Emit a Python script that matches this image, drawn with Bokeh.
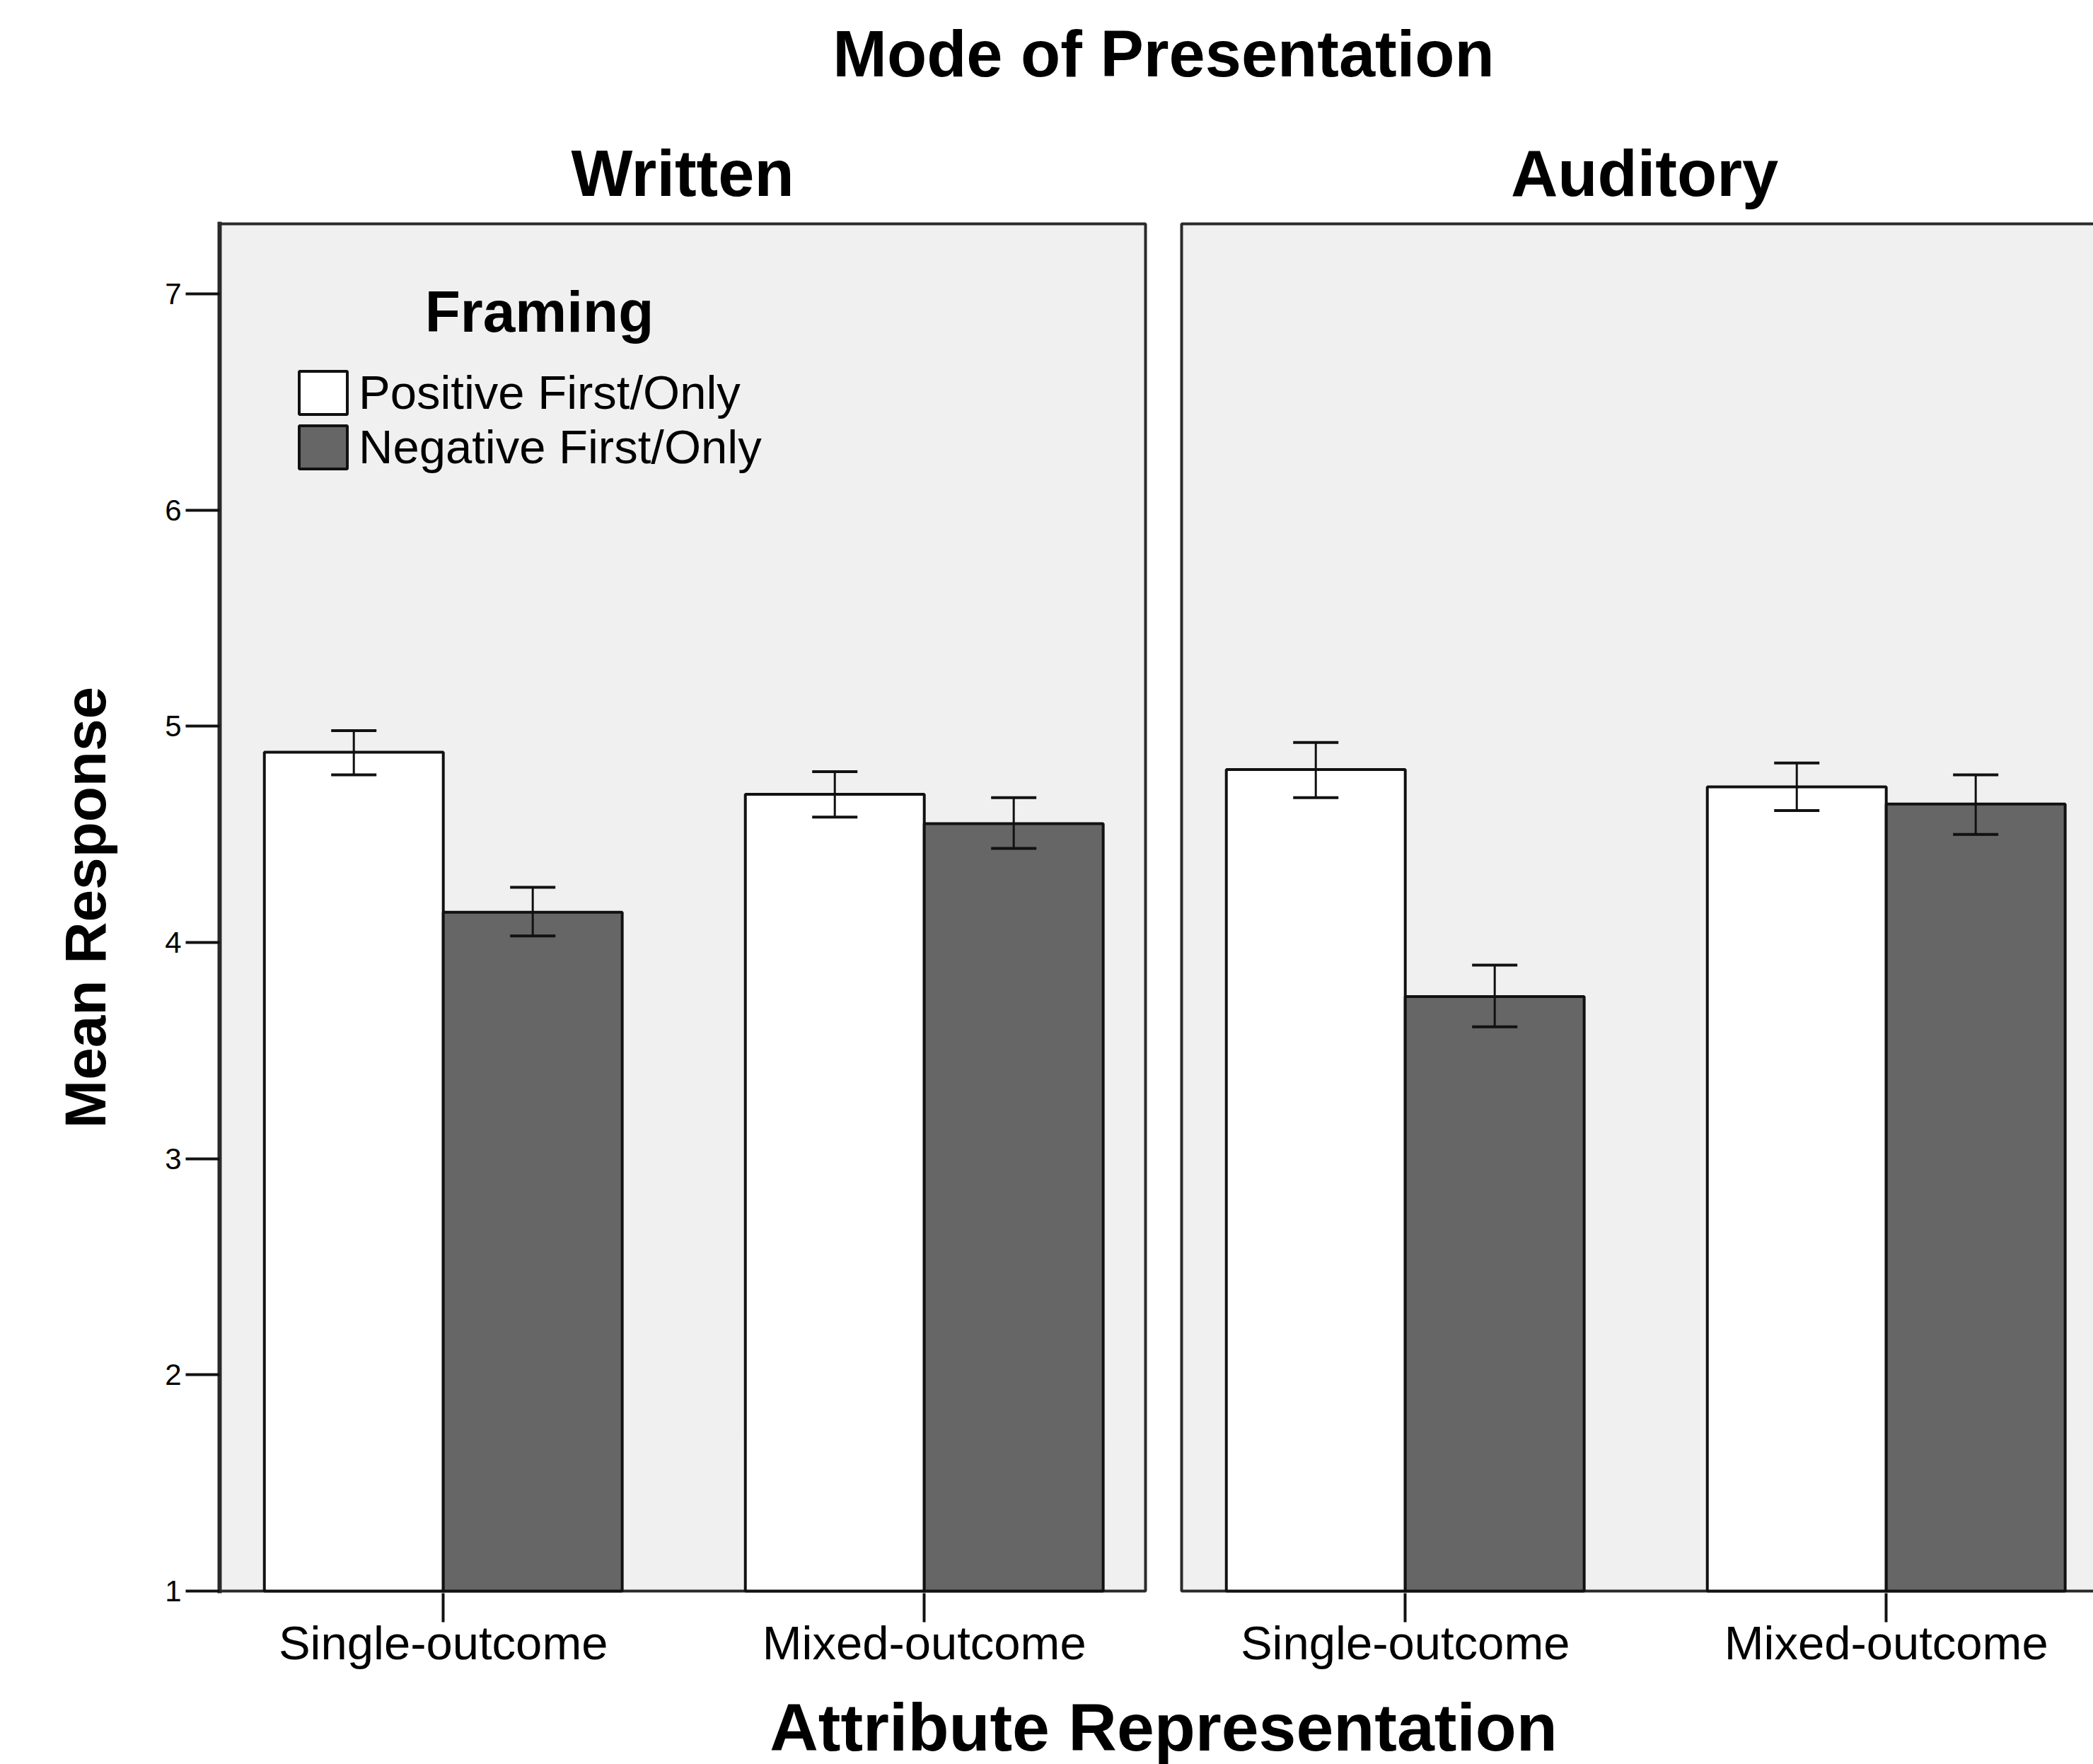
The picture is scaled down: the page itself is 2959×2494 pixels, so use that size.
from bokeh.plotting import figure
from bokeh.layouts import column
from bokeh.models import (Range1d, FixedTicker, ColumnDataSource, Whisker, TeeHead,
                          Legend, LegendItem)
from bokeh.core.properties import value
from bokeh.embed import file_html
from bokeh.resources import INLINE

# ---------------- data ----------------
modes = ["Written", "Auditory"]
categories = ["Single-outcome", "Mixed-outcome"]
framing = ["Positive First/Only", "Negative First/Only"]

# order within each list: [Written/Single, Written/Mixed, Auditory/Single, Auditory/Mixed]
pos_mean = [4.88, 4.685, 4.80, 4.72]
pos_lo = [4.775, 4.58, 4.67, 4.61]
pos_hi = [4.98, 4.79, 4.925, 4.83]
neg_mean = [4.14, 4.55, 3.75, 4.64]
neg_lo = [4.03, 4.435, 3.61, 4.50]
neg_hi = [4.255, 4.67, 3.895, 4.775]

y_ticks = [1, 2, 3, 4, 5, 6, 7]

# ---------------- layout constants ----------------
FONT = "Liberation Sans"
W = 2959
LEFT = 310            # frame left edge in pixels
TOP_H = 313           # height of the title strip
MAIN_H = 2069
BOT_H = 112
PX_X = 680.0          # pixels per x unit
PX_Y = 305.67         # pixels per y unit
Y7_PX = 415           # page y of value 7
MODE_STEP = 2.0
BAR_W = 0.372
PANEL_L = -0.465
PANEL_R = 1.46
PANEL_TOP = 7.324
x_start = PANEL_L
x_end = PANEL_L + (W - LEFT) / PX_X
y_start = 1 - 3 / PX_Y
y_end = 7 + (Y7_PX - TOP_H) / PX_Y
x_range = Range1d(x_start, x_end)

def px_to_y(py):
    return 7 + (Y7_PX - py) / PX_Y

gap_c = (PANEL_R + MODE_STEP + PANEL_L) / 2
panel_c = (PANEL_L + PANEL_R) / 2

common = dict(output_backend="svg", toolbar_location=None, title=None,
              min_border_left=LEFT, min_border_right=0)

# ---------------- top strip (titles) ----------------
top = figure(width=W, height=TOP_H, x_range=x_range,
             y_range=Range1d(y_end, y_end + TOP_H / PX_Y),
             x_axis_type=None, y_axis_type=None,
             min_border_top=0, min_border_bottom=0, **common)
top.outline_line_color = None
top.grid.visible = False
top.text(x=[gap_c], y=[px_to_y(75)], text=["Mode of Presentation"],
         text_font=value(FONT), text_font_size="92px", text_font_style="bold",
         text_align="center", text_baseline="alphabetic", text_color="black")
top.text(x=[i * MODE_STEP + panel_c for i in range(len(modes))],
         y=[px_to_y(244)] * len(modes), text=modes,
         text_font=value(FONT), text_font_size="92px", text_font_style="bold",
         text_align="center", text_baseline="alphabetic", text_color="black")

# ---------------- main plot ----------------
p = figure(width=W, height=MAIN_H, x_range=x_range, y_range=Range1d(y_start, y_end),
           min_border_top=0, min_border_bottom=130, **common)
p.outline_line_color = None
p.grid.visible = False
p.background_fill_color = "white"
p.border_fill_color = "white"

pan_left = [i * MODE_STEP + PANEL_L for i in range(len(modes))]
pan_right = [i * MODE_STEP + PANEL_R for i in range(len(modes))]
p.quad(left=pan_left, right=pan_right, bottom=1, top=PANEL_TOP,
       fill_color="#f0f0f0", line_color="#2a2a2a", line_width=4)

xc = [m * MODE_STEP + c for m in range(len(modes)) for c in range(len(categories))]
pos_src = ColumnDataSource(dict(x=[x - BAR_W / 2 for x in xc], top=pos_mean,
                                lo=pos_lo, hi=pos_hi))
neg_src = ColumnDataSource(dict(x=[x + BAR_W / 2 for x in xc], top=neg_mean,
                                lo=neg_lo, hi=neg_hi))

r_pos = p.vbar(x="x", top="top", bottom=1, width=BAR_W, source=pos_src,
               fill_color="white", line_color="#111111", line_width=4)
r_neg = p.vbar(x="x", top="top", bottom=1, width=BAR_W, source=neg_src,
               fill_color="#666666", line_color="#111111", line_width=4)

for src in (pos_src, neg_src):
    w = Whisker(source=src, base="x", lower="lo", upper="hi", dimension="height",
                line_color="#111111", line_width=3, level="annotation",
                upper_head=TeeHead(size=64, line_width=4, line_color="#111111"),
                lower_head=TeeHead(size=64, line_width=4, line_color="#111111"))
    p.add_layout(w)

xa = p.xaxis[0]
xa.ticker = FixedTicker(ticks=xc)
xa.major_label_overrides = {x: categories[i % len(categories)] for i, x in enumerate(xc)}
xa.axis_line_color = None
xa.major_tick_out = 41
xa.major_tick_in = 0
xa.major_tick_line_width = 4
xa.major_tick_line_color = "#111111"
xa.minor_tick_line_color = None
xa.major_label_text_font = FONT
xa.major_label_text_font_size = "67px"
xa.major_label_text_color = "black"
xa.major_label_standoff = -9

ya = p.yaxis[0]
ya.ticker = FixedTicker(ticks=y_ticks)
ya.axis_line_color = "#2a2a2a"
ya.axis_line_width = 6
ya.major_tick_out = 48
ya.major_tick_in = 0
ya.major_tick_line_width = 4
ya.major_tick_line_color = "#111111"
ya.minor_tick_line_color = None
ya.major_label_text_font = FONT
ya.major_label_text_font_size = "42px"
ya.major_label_text_color = "black"
ya.major_label_standoff = 6
ya.axis_label = "Mean Response"
ya.axis_label_text_font = FONT
ya.axis_label_text_font_style = "bold"
ya.axis_label_text_font_size = "82px"
ya.axis_label_text_color = "black"
ya.axis_label_standoff = 64

p.text(x=[PANEL_L + (762 - LEFT) / PX_X], y=[px_to_y(440)], text=["Framing"],
       text_font=value(FONT), text_font_size="82px", text_font_style="bold",
       text_align="center", text_baseline="alphabetic", text_color="black")

legend = Legend(items=[LegendItem(label=framing[0], renderers=[r_pos]),
                       LegendItem(label=framing[1], renderers=[r_neg])],
                location=(104, 1582), orientation="vertical",
                glyph_width=85, glyph_height=76, spacing=0, padding=0, margin=0,
                label_standoff=8, label_text_font=FONT, label_text_font_size="67px",
                label_text_color="black", border_line_color=None,
                background_fill_alpha=0)
p.add_layout(legend, "center")

# ---------------- bottom strip (x axis title) ----------------
bot_top_px = TOP_H + MAIN_H
bot = figure(width=W, height=BOT_H, x_range=x_range,
             y_range=Range1d(px_to_y(bot_top_px + BOT_H), px_to_y(bot_top_px)),
             x_axis_type=None, y_axis_type=None,
             min_border_top=0, min_border_bottom=0, **common)
bot.outline_line_color = None
bot.grid.visible = False
bot.text(x=[gap_c], y=[px_to_y(2441)], text=["Attribute Representation"],
         text_font=value(FONT), text_font_size="95px", text_font_style="bold",
         text_align="center", text_baseline="alphabetic", text_color="black")

layout = column(top, p, bot, spacing=0)
open("out.html", "w").write(file_html(layout, INLINE))
